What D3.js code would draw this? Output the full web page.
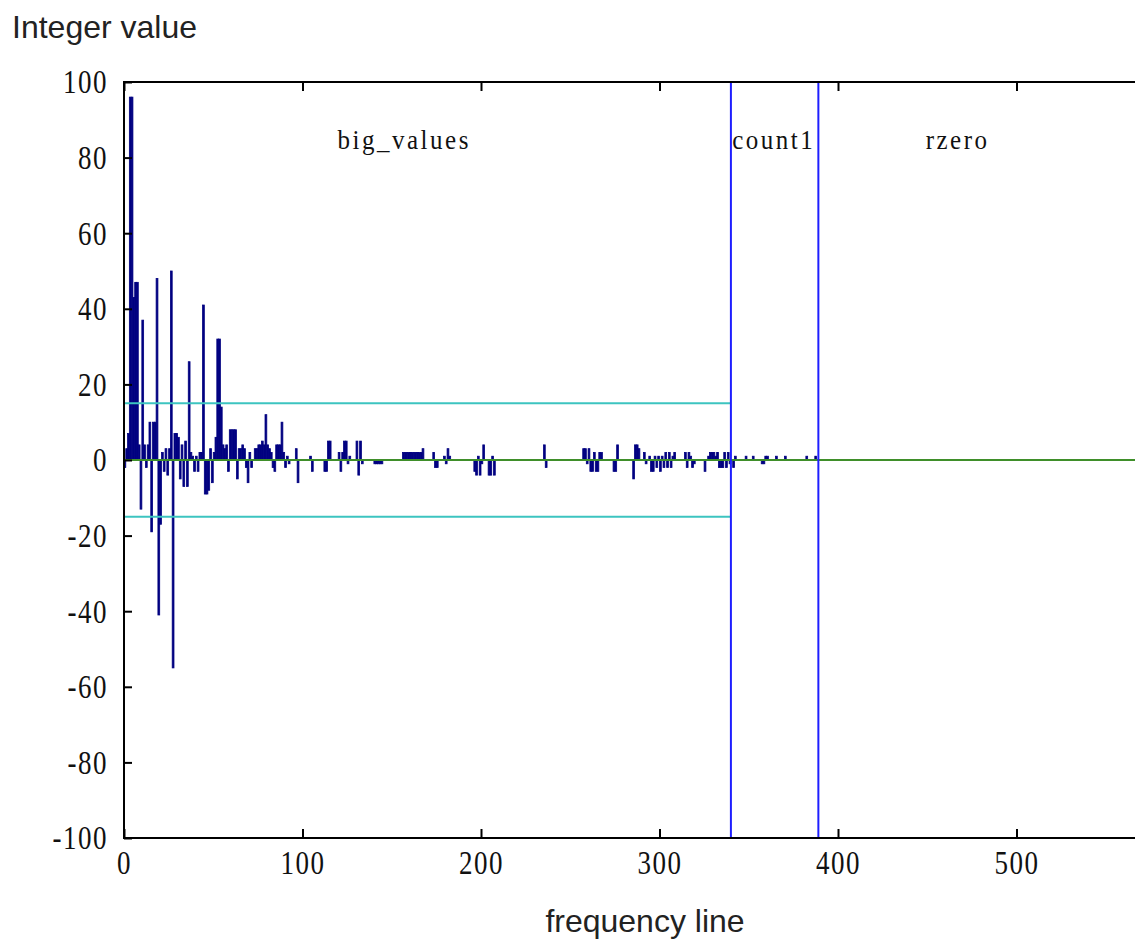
<!DOCTYPE html>
<html><head><meta charset="utf-8">
<script src="https://cdn.jsdelivr.net/npm/d3@7"></script>
<style>
html,body{margin:0;padding:0;background:#fff;overflow:hidden;}
svg{display:block;}
</style></head>
<body><svg id="chart" width="1135" height="948"></svg>
<script>
// Integer value per frequency line (lines 0..388)
const lineValues = [
  -2, 3, 7, 96, 96, 43, 47, 47, 4, -13, 37, 4, -2, 4, 10, -19, 10, 10, 48, -41,
  -17, 2, -3, 3, -4, 3, 50, -55, 7, 7, 6, -5, 4, -7, 5, -7, 26, 2, 1, -3,
  1, -3, 2, 2, 41, -9, -9, -8, 3, -6, 2, 6, 32, 32, 14, 4, 3, 4, -3, 8,
  8, 8, 8, -5, 3, 3, 4, 3, -2, -6, 2, -2, 0, 3, 3, 4, 4, 5, 4, 12,
  4, 3, 2, -2, -3, 4, 4, 4, 10, 2, -2, 1, -1, 0, 0, 0, 3, -6, 0, 0,
  0, 0, 0, 0, 1, -3, 0, 0, 0, 0, 0, 0, -3, -3, 5, 5, 0, 0, 0, 0,
  2, -3, 2, 5, 5, -1, 1, 0, 0, 0, 5, -4, 5, -1, 0, 0, 0, 0, 0, 0,
  -1, -1, -1, -1, -1, 0, 0, 0, 0, 0, 0, 0, 0, 0, 0, 0, 2, 2, 2, 2,
  2, 2, 2, 2, 2, 2, 2, 3, 0, 0, 0, 0, 0, 2, -2, -2, 0, 0, 0, 1,
  -1, 3, 1, 0, 0, 0, 0, 0, 0, 0, 0, 0, 0, 0, 0, 0, -3, -4, 1, -4,
  -1, 4, 0, 0, -4, -4, 1, -4, 0, 0, 0, 0, 0, 0, 0, 0, 0, 0, 0, 0,
  0, 0, 0, 0, 0, 0, 0, 0, 0, 0, 0, 0, 0, 0, 0, 4, -2, 0, 0, 0,
  0, 0, 0, 0, 0, 0, 0, 0, 0, 0, 0, 0, 0, 0, 0, 0, 0, 3, 3, -1,
  3, -3, -3, 2, -3, -3, 2, 2, 0, 0, 0, 0, 0, 0, -3, -3, 4, 0, 0, 0,
  0, 0, 0, 0, 0, -5, 4, 4, 3, 0, 0, 2, -1, 0, 1, -3, -3, 1, -2, 1,
  -3, 1, -2, 2, -2, 2, -2, 1, 2, 0, 0, 0, 0, 0, 2, -2, 2, 1, -2, -1,
  0, 0, 0, 0, 0, -3, 0, 1, 2, 2, 2, 1, 2, -2, -2, -2, 2, -2, 2, -1,
  0, -2, 1, 0, 0, 0, 0, 0, 1, 0, 0, 0, 1, 0, 0, 0, 0, -1, -1, 1,
  1, 0, 0, 0, 0, 1, 0, 0, 0, 0, 1, 0, 0, 0, 0, 0, 0, 0, 0, 0,
  0, 0, 1, 0, 0, 0, 0, 1, 0
];
const regionBounds = [340, 389];              // big_values | count1 | rzero
const regionNames = ["big_values", "count1", "rzero"];
const regionLabelAt = [157, 364, 467];        // frequency line at label centre
const thresholdValue = 15;                    // cyan limits +/-15 over big_values
const xTicks = [0, 100, 200, 300, 400, 500];
const yTicks = [-100, -80, -60, -40, -20, 0, 20, 40, 60, 80, 100];
const xDomain = [0, 576];
const yDomain = [-100, 100];

const svg = d3.select("#chart");
const L = 124, T = 82, B = 838;
const x = d3.scaleLinear().domain(xDomain).range([L, L + 576 * 1.785]);
const y = d3.scaleLinear().domain(yDomain).range([B, T]);
const serif = "'Liberation Serif','Times New Roman',serif";
const sans = "'Liberation Sans',Arial,Helvetica,sans-serif";
const stretch = 1.25;   // tall, narrow tick digits as in the original

// bars
const data = lineValues.map((v, i) => ({line: i, value: v})).filter(d => d.value !== 0);
svg.append("g").selectAll("rect").data(data).join("rect")
  .attr("x", d => x(d.line))
  .attr("width", d => x(d.line + 1) - x(d.line))
  .attr("y", d => y(Math.max(0, d.value)))
  .attr("height", d => Math.abs(y(d.value) - y(0)))
  .attr("fill", "#000080")
  .attr("stroke", "#000080")
  .attr("stroke-width", 0.8);

// cyan thresholds
svg.append("g").selectAll("line").data([thresholdValue, -thresholdValue]).join("line")
  .attr("x1", x(0)).attr("x2", x(regionBounds[0]))
  .attr("y1", d => y(d)).attr("y2", d => y(d))
  .attr("stroke", "#3cc4c0").attr("stroke-width", 2);

// zero line
svg.append("line")
  .attr("x1", x(0)).attr("x2", 1135)
  .attr("y1", y(0)).attr("y2", y(0))
  .attr("stroke", "#3f8f2a").attr("stroke-width", 2);

// region boundaries
svg.append("g").selectAll("line").data(regionBounds).join("line")
  .attr("x1", d => x(d)).attr("x2", d => x(d))
  .attr("y1", T).attr("y2", B)
  .attr("stroke", "#1e1eff").attr("stroke-width", 2);

// region labels
svg.append("g").selectAll("text").data(regionNames).join("text")
  .attr("transform", (d, i) => `translate(${x(regionLabelAt[i])},149) scale(1,1.12)`)
  .attr("text-anchor", "middle")
  .attr("font-family", serif).attr("font-size", 25)
  .attr("letter-spacing", 2.5)
  .attr("fill", "#111")
  .text(d => d);

// axes
const fmt = d => String(d);
const ax = svg.append("g").attr("transform", `translate(0,${B})`)
  .call(d3.axisBottom(x).tickValues(xTicks).tickSize(-9).tickPadding(12).tickFormat(fmt));
const at = svg.append("g").attr("transform", `translate(0,${T})`)
  .call(d3.axisTop(x).tickValues(xTicks).tickSize(-9).tickFormat(""));
const ay = svg.append("g").attr("transform", `translate(${L},0)`)
  .call(d3.axisLeft(y).tickValues(yTicks).tickSize(-8).tickPadding(16).tickFormat(fmt));
[ax, at, ay].forEach(g => {
  g.select(".domain").remove();
  g.selectAll(".tick line").attr("stroke", "#000").attr("stroke-width", 2);
  g.selectAll("text").attr("font-family", serif).attr("font-size", 27)
    .attr("letter-spacing", 1.5).attr("fill", "#111")
    .attr("transform", `scale(1,${stretch})`);
});
ax.selectAll("text").attr("y", 12 / stretch);

// frame
svg.append("path")
  .attr("d", `M1140,${T}H${L}V${B}H1140`)
  .attr("fill", "none").attr("stroke", "#000").attr("stroke-width", 2);

// titles
svg.append("text").attr("x", 12).attr("y", 38)
  .attr("font-family", sans).attr("font-size", 32).attr("fill", "#222")
  .text("Integer value");
svg.append("text").attr("x", 645).attr("y", 932).attr("text-anchor", "middle")
  .attr("font-family", sans).attr("font-size", 32).attr("fill", "#222")
  .text("frequency line");
</script></body></html>
